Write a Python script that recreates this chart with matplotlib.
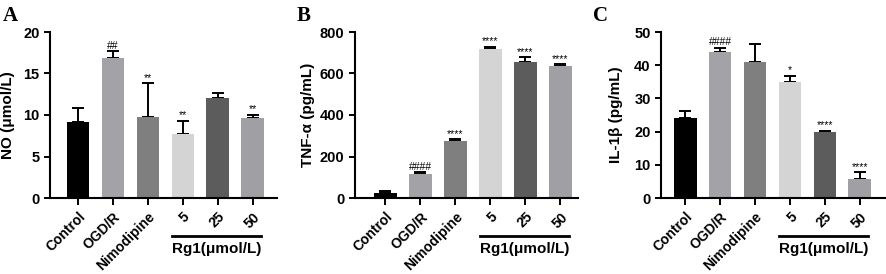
import matplotlib.pyplot as plt
import matplotlib.transforms as mtransforms

plt.rcParams['font.family'] = ['Liberation Sans', 'DejaVu Sans']
plt.rcParams['font.weight'] = 'bold'

groups = ['Control', 'OGD/R', 'Nimodipine', '5', '25', '50']
colors = ['#000000', '#a3a3a7', '#7f7f7f', '#d4d4d4', '#5c5c5c', '#a0a0a4']

no_mean = [9.1, 16.9, 9.8, 7.7, 12.0, 9.6]
no_err = [1.8, 0.8, 4.0, 1.6, 0.6, 0.4]
no_marks = ['', '##', '**', '**', '', '**']

tnf_mean = [22, 115, 275, 718, 655, 638]
tnf_err = [10, 8, 7, 10, 23, 7]
tnf_marks = ['', '####', '****', '****', '****', '****']

il_mean = [24.0, 44.0, 41.0, 35.0, 19.8, 5.8]
il_err = [2.3, 1.3, 5.5, 1.8, 0.5, 2.0]
il_marks = ['', '####', '', '*', '****', '****']

fig = plt.figure(figsize=(8.86, 2.74), dpi=100)
W, H = 886, 274


def panel(left, right, xl, means, errs, marks, ymax, ystep, ylabel, letter, lx, ylab_x):
    ax = fig.add_axes([left / W, (H - 198) / H, (right - left) / W, 166 / H])
    x = range(len(groups))
    ax.bar(x, means, width=0.64, color=colors, zorder=2)
    ax.errorbar(x, means, yerr=[[0] * len(errs), errs], fmt='none', ecolor='black',
                elinewidth=1.4, capsize=4.5, capthick=1.4, zorder=1)
    for i in x:
        if marks[i]:
            ax.text(i, means[i] + errs[i] + ymax * 0.003, marks[i], ha='center', va='bottom',
                    fontsize=7.5, fontweight='normal')
    ax.set_xlim(xl)
    ax.set_ylim(0, ymax)
    ax.set_yticks(range(0, ymax + 1, ystep))
    ax.set_xticks(list(x))
    ax.set_xticklabels(groups, rotation=45, ha='right', rotation_mode='anchor', fontsize=10)
    ax.tick_params(axis='y', labelsize=10.5, width=1.4, length=4)
    ax.tick_params(axis='x', width=1.4, length=5)
    for s in ['top', 'right']:
        ax.spines[s].set_visible(False)
    for s in ['left', 'bottom']:
        ax.spines[s].set_linewidth(1.5)
    ax.set_ylabel(ylabel, fontsize=11, fontweight='bold')
    ax.yaxis.set_label_coords((ylab_x - left) / (right - left), 0.5)
    trans = mtransforms.blended_transform_factory(ax.transData, ax.transAxes)
    ax.plot([2.7, 5.25], [-0.23, -0.23], color='black', lw=2, transform=trans, clip_on=False)
    ax.text(3.98, -0.31, 'Rg1(μmol/L)', ha='center', va='center', fontsize=11,
            transform=trans)
    fig.text(lx / W, 1 - 16 / H, letter, fontsize=15, fontweight='bold',
             family='Liberation Serif', va='center')
    return ax


panel(50, 277, (-0.8, 5.7), no_mean, no_err, no_marks, 20, 5, 'NO (μmol/L)', 'A', 3, 15)
panel(355, 578, (-0.87, 5.5), tnf_mean, tnf_err, tnf_marks, 800, 200, 'TNF-α (pg/mL)', 'B', 297, 315)
panel(661, 885, (-0.7, 5.73), il_mean, il_err, il_marks, 50, 10, 'IL-1β (pg/mL)', 'C', 593, 623)

fig.savefig('out.png', dpi=100)
